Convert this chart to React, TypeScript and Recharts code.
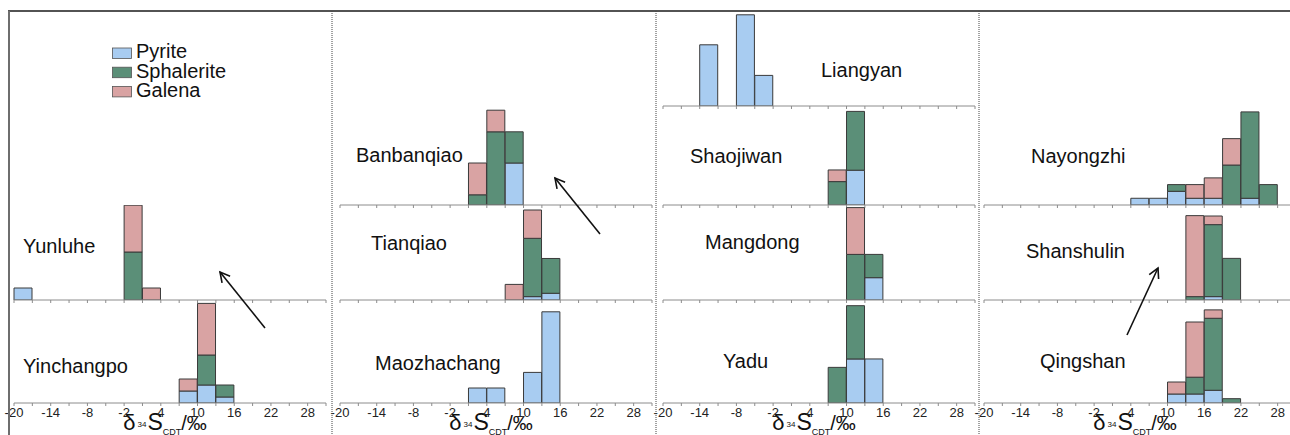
import React from 'react';
import { BarChart, Bar, XAxis, YAxis } from 'recharts';

// δ34S bins, 3 ‰ wide
const BIN_STARTS = [-20, -17, -14, -11, -8, -5, -2, 1, 4, 7, 10, 13, 16, 19, 22, 25, 28];
const TICKS = [-20, -17, -14, -11, -8, -5, -2, 1, 4, 7, 10, 13, 16, 19, 22, 25, 28, 31];
const TICK_LABELS = [-20, -14, -8, -2, 4, 10, 16, 22, 28];

const MINERALS = ['Pyrite', 'Sphalerite', 'Galena'];
const KEYS = ['pyrite', 'sphalerite', 'galena'];
const COLORS = ['#a8ccf1', '#5b8f78', '#d9a3a3'];

// [bin start, pyrite, sphalerite, galena]  (relative frequency)
const YUNLUHE = [[-20, 1, 0, 0], [-2, 0, 4, 3.9], [1, 0, 0, 1]];
const YINCHANGPO = [[7, 1, 0, 1], [10, 1.5, 2.5, 4.3], [13, 0.5, 1, 0]];
const BANBANQIAO = [[1, 0, 0.85, 2.65], [4, 0, 6.1, 1.8], [7, 3.5, 2.6, 0]];
const TIANQIAO = [[7, 0, 0, 1.3], [10, 0.28, 4.86, 2.36], [13, 0.56, 2.9, 0]];
const MAOZHACHANG = [[1, 1.25, 0, 0], [4, 1.25, 0, 0], [10, 2.55, 0, 0], [13, 7.6, 0, 0]];
const LIANGYAN = [[-14, 5.1, 0, 0], [-8, 7.6, 0, 0], [-5, 2.55, 0, 0]];
const SHAOJIWAN = [[7, 0, 1.95, 0.97], [10, 2.9, 4.9, 0]];
const MANGDONG = [[10, 0, 3.8, 3.9], [13, 1.86, 1.94, 0]];
const YADU = [[7, 0, 2.97, 0], [10, 3.67, 4.44, 0], [13, 3.67, 0, 0]];
const NAYONGZHI = [
  [4, 0.56, 0, 0], [7, 0.56, 0, 0], [10, 1.14, 0.56, 0], [13, 0.56, 0, 1.14],
  [16, 0.56, 0, 1.7], [19, 0, 3.33, 2.2], [22, 0.56, 7.2, 0], [25, 0, 1.7, 0],
];
const SHANSHULIN = [[13, 0, 0.28, 6.75], [16, 0.28, 6.0, 0.72], [19, 0, 3.47, 0]];
const QINGSHAN = [[10, 0.75, 0, 1.0], [13, 0.75, 1.4, 4.6], [16, 1.06, 6.0, 0.7], [19, 0, 0.36, 0]];

const FONT = '"Liberation Sans", Arial, sans-serif';
const UNIT = 12; // px per frequency unit
const PLOT_W = 312;
const PAD = 14;
const COL_X = [14, 340, 663, 984];
const ROWS = [
  { top: 11, base: 106 },
  { top: 106, base: 205 },
  { top: 205, base: 300 },
  { top: 300, base: 403 },
];

const PANELS = [
  { name: 'Yunluhe', data: YUNLUHE, col: 0, row: 2, lx: 23, ly: 253 },
  { name: 'Yinchangpo', data: YINCHANGPO, col: 0, row: 3, lx: 23, ly: 373 },
  { name: 'Banbanqiao', data: BANBANQIAO, col: 1, row: 1, lx: 356, ly: 162 },
  { name: 'Tianqiao', data: TIANQIAO, col: 1, row: 2, lx: 371, ly: 250 },
  { name: 'Maozhachang', data: MAOZHACHANG, col: 1, row: 3, lx: 375, ly: 370 },
  { name: 'Liangyan', data: LIANGYAN, col: 2, row: 0, lx: 821, ly: 77 },
  { name: 'Shaojiwan', data: SHAOJIWAN, col: 2, row: 1, lx: 690, ly: 163 },
  { name: 'Mangdong', data: MANGDONG, col: 2, row: 2, lx: 705, ly: 249 },
  { name: 'Yadu', data: YADU, col: 2, row: 3, lx: 723, ly: 368 },
  { name: 'Nayongzhi', data: NAYONGZHI, col: 3, row: 1, lx: 1031, ly: 163 },
  { name: 'Shanshulin', data: SHANSHULIN, col: 3, row: 2, lx: 1026, ly: 258 },
  { name: 'Qingshan', data: QINGSHAN, col: 3, row: 3, lx: 1040, ly: 368 },
];

// trend arrows: [tailX, tailY, headX, headY]
const ARROWS = [
  [265, 328, 220, 272],
  [600, 234, 555, 178],
  [1127, 335, 1158, 268],
];

function toRows(bins: number[][]) {
  return BIN_STARTS.map((s) => {
    const hit = bins.find((b) => b[0] === s);
    return {
      x: s + 1.5,
      pyrite: hit ? hit[1] : 0,
      sphalerite: hit ? hit[2] : 0,
      galena: hit ? hit[3] : 0,
    };
  });
}

function AxisTitle(props: any) {
  const { x, y } = props.viewBox;
  return (
    <text x={x + 151} y={y + 27} textAnchor="middle" fill="#111" fontFamily={FONT} fontSize={22}>
      δ<tspan fontSize={8} dx={2} dy={-3}>34</tspan>
      <tspan fontSize={23} dx={1} dy={3}>S</tspan>
      <tspan fontSize={9} dy={5}>CDT</tspan>
      <tspan fontSize={20} dy={-5}>/‰</tspan>
    </text>
  );
}

function Panel({ p }: { p: any }) {
  const row = ROWS[p.row];
  const bottom = p.row === 3;
  const plotH = row.base - row.top;
  const axisH = bottom ? 435 - row.base : 5;
  return (
    <div style={{ position: 'absolute', left: COL_X[p.col] - PAD, top: row.top }}>
      <BarChart
        width={PLOT_W + 2 * PAD}
        height={plotH + axisH}
        data={toRows(p.data)}
        margin={{ top: 0, right: PAD, bottom: 0, left: PAD }}
        barCategoryGap={0}
        barGap={0}
      >
        <XAxis
          dataKey="x"
          type="number"
          domain={[-20, 31]}
          ticks={TICKS}
          interval={0}
          height={axisH}
          stroke="#8c8c8c"
          tickSize={3}
          tickFormatter={(v: number) => (bottom && TICK_LABELS.includes(v) ? String(v) : '')}
          tick={{ fill: '#222', fontSize: 13, fontFamily: FONT }}
          label={bottom ? <AxisTitle /> : undefined}
        />
        <YAxis hide domain={[0, plotH / UNIT]} allowDataOverflow />
        {KEYS.map((k, i) => (
          <Bar
            key={k}
            dataKey={k}
            stackId="s"
            fill={COLORS[i]}
            stroke="#3a3a3a"
            strokeWidth={1}
            isAnimationActive={false}
          />
        ))}
      </BarChart>
    </div>
  );
}

function arrowHead(a: number[]) {
  const [tx, ty, hx, hy] = a;
  const len = Math.hypot(hx - tx, hy - ty);
  const ux = (hx - tx) / len;
  const uy = (hy - ty) / len;
  const ang = (28 * Math.PI) / 180;
  const s = 11;
  const p1 = [hx - s * (ux * Math.cos(ang) - uy * Math.sin(ang)), hy - s * (ux * Math.sin(ang) + uy * Math.cos(ang))];
  const p2 = [hx - s * (ux * Math.cos(-ang) - uy * Math.sin(-ang)), hy - s * (ux * Math.sin(-ang) + uy * Math.cos(-ang))];
  return `${p1[0]},${p1[1]} ${hx},${hy} ${p2[0]},${p2[1]}`;
}

export default function App() {
  return (
    <div style={{ position: 'absolute', left: 0, top: 0, width: 1290, height: 435, overflow: 'hidden', background: '#fff', fontFamily: FONT }}>
      {PANELS.map((p) => (
        <Panel key={p.name} p={p} />
      ))}
      <svg width={1290} height={435} style={{ position: 'absolute', left: 0, top: 0, pointerEvents: 'none' }}>
        <line x1={8} y1={11} x2={1290} y2={11} stroke="#1a1a1a" strokeWidth={1.5} />
        <line x1={9} y1={11} x2={9} y2={435} stroke="#6e6e6e" strokeWidth={2} />
        {[332, 656, 979].map((x) => (
          <line key={x} x1={x} y1={11} x2={x} y2={435} stroke="#444" strokeWidth={1} strokeDasharray="1 1" />
        ))}
        {ARROWS.map((a, i) => (
          <g key={i} stroke="#111" strokeWidth={1.6} fill="none">
            <line x1={a[0]} y1={a[1]} x2={a[2]} y2={a[3]} />
            <polyline points={arrowHead(a)} />
          </g>
        ))}
        {PANELS.map((p) => (
          <text key={p.name} x={p.lx} y={p.ly} fontSize={20} fill="#111" fontFamily={FONT}>
            {p.name}
          </text>
        ))}
        {MINERALS.map((m, i) => (
          <g key={m}>
            <rect x={112.5} y={48 + i * 19.2} width={19} height={10.5} fill={COLORS[i]} stroke="#555" strokeWidth={0.8} />
            <text x={136} y={58.3 + i * 19.2} fontSize={20} fill="#111" fontFamily={FONT}>
              {m}
            </text>
          </g>
        ))}
      </svg>
    </div>
  );
}
